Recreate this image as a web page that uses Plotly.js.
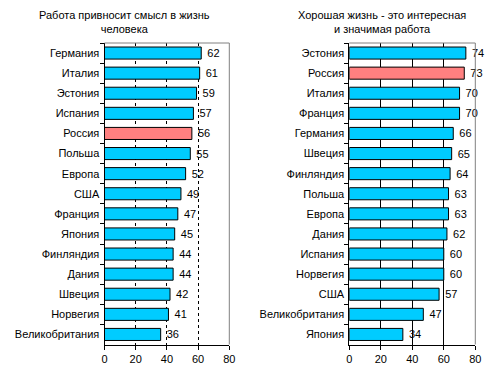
<!DOCTYPE html>
<html><head><meta charset="utf-8">
<script src="https://cdn.plot.ly/plotly-3.0.1.min.js"></script>
<style>body{margin:0;padding:0;background:#fff}#c{width:493px;height:375px}</style>
</head><body><div id="c"></div>
<script>
const leftCategories = ["Германия","Италия","Эстония","Испания","Россия","Польша","Европа","США","Франция","Япония","Финляндия","Дания","Швеция","Норвегия","Великобритания"];
const leftValues = [62,61,59,57,56,55,52,49,47,45,44,44,42,41,36];
const rightCategories = ["Эстония","Россия","Италия","Франция","Германия","Швеция","Финляндия","Польша","Европа","Дания","Испания","Норвегия","США","Великобритания","Япония"];
const rightValues = [74,73,70,70,66,65,64,63,63,62,60,60,57,47,34];
const leftTitle = "Работа привносит смысл в жизнь<br>человека";
const rightTitle = "Хорошая жизнь - это интересная<br>и значимая работа";
const xTicks = [0,20,40,60,80];
const highlight = "Россия";

const font = "Liberation Sans, Arial, sans-serif";
function colors(cats){return cats.map(c => c===highlight ? "#FF8080" : "#00CCFF");}
function bar(cats, vals, xa, ya){
  return {type:"bar", orientation:"h", y:cats, x:vals, xaxis:xa, yaxis:ya,
    marker:{color:colors(cats), line:{color:"#000", width:1}},
    text:vals.map(v => " " + v), textposition:"outside", cliponaxis:false,
    textfont:{family:font, size:11, color:"#000"}, hoverinfo:"none"};
}
const W=493,H=375;
const yTop = 1-43/H, yBot = 1-344.5/H;
function xax(d0,d1,dash,anchor){
  return {domain:[d0/W,d1/W], range:[0,80], tickvals:xTicks, ticks:"outside", ticklen:4, tickcolor:"#000",
    showline:true, linecolor:"#000", linewidth:1, showgrid:true, gridcolor:"#000", gridwidth:1,
    griddash:dash, zeroline:false, anchor:anchor, fixedrange:true,
    tickfont:{family:font,size:11,color:"#000"}};
}
function yax(anchor){
  return {domain:[yBot,yTop], autorange:"reversed", type:"category", ticks:"outside", tickson:"boundaries",
    ticklen:4, tickcolor:"#000", showline:true, linecolor:"#000", linewidth:1, showgrid:false,
    ticklabelstandoff:2,
    anchor:anchor, tickfont:{family:font,size:11,color:"#000"}, fixedrange:true};
}
const L0=104.5,L1=229.3,R0=349.3,R1=475.3;
const layout = {
  width:W, height:H, margin:{l:0,r:0,t:0,b:0}, paper_bgcolor:"#fff", plot_bgcolor:"#fff",
  showlegend:false, bargap:0.4,
  xaxis:xax(L0,L1,"3px,3px","y"), yaxis:yax("x"),
  xaxis2:xax(R0,R1,"solid","y2"), yaxis2:yax("x2"),
  shapes:[
    {type:"line",xref:"paper",yref:"paper",x0:L0/W,x1:L1/W,y0:yTop,y1:yTop,line:{color:"#808080",width:1}},
    {type:"line",xref:"paper",yref:"paper",x0:L1/W,x1:L1/W,y0:yBot,y1:yTop,line:{color:"#808080",width:1}},
    {type:"line",xref:"paper",yref:"paper",x0:R0/W,x1:R1/W,y0:yTop,y1:yTop,line:{color:"#808080",width:1}},
    {type:"line",xref:"paper",yref:"paper",x0:R1/W,x1:R1/W,y0:yBot,y1:yTop,line:{color:"#808080",width:1}}
  ],
  annotations:[
    {text:leftTitle, xref:"paper", yref:"paper", x:124/W, y:1-7/H, xanchor:"center", yanchor:"top", showarrow:false,
     font:{family:font,size:11,color:"#000"}},
    {text:rightTitle, xref:"paper", yref:"paper", x:382/W, y:1-7/H, xanchor:"center", yanchor:"top", showarrow:false,
     font:{family:font,size:11,color:"#000"}}
  ]
};
Plotly.newPlot("c",[bar(leftCategories,leftValues,"x","y"),bar(rightCategories,rightValues,"x2","y2")],layout,{staticPlot:true});
</script></body></html>
